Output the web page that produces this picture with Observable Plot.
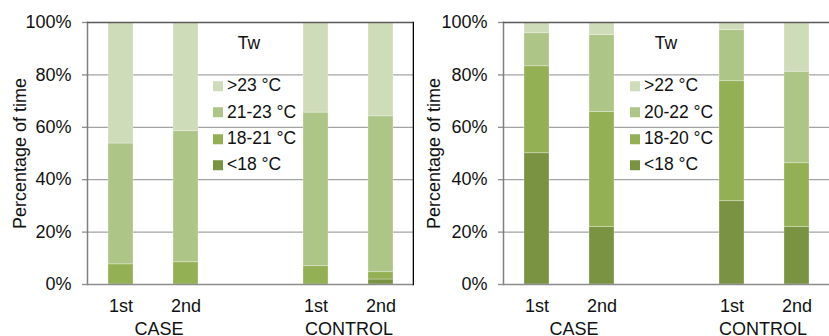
<!DOCTYPE html>
<html>
<head>
<meta charset="utf-8">
<script src="https://cdn.jsdelivr.net/npm/d3@7"></script>
<script src="https://cdn.jsdelivr.net/npm/@observablehq/plot@0.6"></script>
<style>
  html, body { margin: 0; padding: 0; background: #fff; }
  #wrap { position: relative; width: 829px; height: 336px; overflow: hidden; font-family: "Liberation Sans", Arial, sans-serif; color: #111; }
  .chart { position: absolute; top: 0; }
  .legend { position: absolute; font-size: 17.5px; line-height: 1; }
  .legend .title { position: absolute; transform: translate(-50%, -50%); white-space: nowrap; }
  .legend .row { position: absolute; white-space: nowrap; display: flex; align-items: center; transform: translateY(-50%); }
  .legend .sw { width: 10px; height: 10px; display: inline-block; margin-right: 4px; }
</style>
</head>
<body>
<div id="wrap"></div>
<script>
// ---- data ----
const xDomain = ["CASE 1st", "CASE 2nd", "gap", "CONTROL 1st", "CONTROL 2nd"];
const barCategories = ["CASE 1st", "CASE 2nd", "CONTROL 1st", "CONTROL 2nd"];
const groups = ["CASE", "CONTROL"];
const yTicks = [0, 20, 40, 60, 80, 100];
const legendTitle = "Tw";

// left chart (bottom -> top)
const leftBands = ["<18 °C", "18-21 °C", "21-23 °C", ">23 °C"];
const leftLt18   = [0.0, 0.0, 0.0, 1.9];
const left18to21 = [7.7, 8.5, 7.0, 2.8];
const left21to23 = [46.1, 50.0, 58.6, 59.5];
const leftGt23   = [46.2, 41.5, 34.4, 35.8];

// right chart (bottom -> top)
const rightBands = ["<18 °C", "18-20 °C", "20-22 °C", ">22 °C"];
const rightLt18   = [50.1, 21.9, 31.8, 21.9];
const right18to20 = [33.2, 43.9, 45.8, 24.4];
const right20to22 = [12.6, 29.4, 19.5, 34.9];
const rightGt22   = [4.1, 4.8, 2.9, 18.8];

const colors = ["#7a9343", "#94b055", "#adc587", "#cfdcb9"];

function tidy(bands, series) {
  const rows = [];
  bands.forEach((b, i) => barCategories.forEach((c, j) => rows.push({cat: c, band: b, value: series[i][j]})));
  return rows;
}

function makeChart({bands, series, width, marginLeft, marginRight, labelOffset, rightLine, dxCase, dxControl}) {
  const data = tidy(bands, series);
  return Plot.plot({
    width, height: 336,
    marginLeft, marginRight, marginTop: 22, marginBottom: 52,
    style: {fontFamily: "Liberation Sans, Arial, sans-serif", fontSize: "18px", color: "#111", background: "#fff", overflow: "visible"},
    x: {domain: xDomain, paddingInner: 0.62, paddingOuter: 0.31, axis: null},
    y: {domain: [0, 100], axis: null},
    color: {domain: bands, range: colors},
    marks: [
      Plot.gridY([20, 40, 60, 80], {stroke: "#a3a3a3", strokeOpacity: 1, strokeWidth: 1.3}),
      Plot.barY(data, {x: "cat", y: "value", fill: "band", order: bands, stroke: "#fff", strokeOpacity: 0.35, strokeWidth: 0.8}),
      Plot.axisY(yTicks, {tickSize: 5, tickPadding: 11, tickFormat: d => d + "%", stroke: "#8c8c8c", strokeWidth: 1.3, fontSize: 18,
        label: "Percentage of time", labelAnchor: "center", labelOffset, labelArrow: "none"}),
      Plot.axisX(barCategories, {tickSize: 0, tickPadding: 15, tickFormat: d => d.split(" ")[1], label: null, fontSize: 18}),
      Plot.text([groups[0]], {x: () => "CASE 2nd", frameAnchor: "bottom", lineAnchor: "top", dy: 38, dx: dxCase, text: d => d, fontSize: 18}),
      Plot.text([groups[1]], {x: () => "CONTROL 2nd", frameAnchor: "bottom", lineAnchor: "top", dy: 38, dx: dxControl, text: d => d, fontSize: 18}),
      Plot.frame({anchor: "left", stroke: "#7f7f7f", strokeWidth: 1.5}),
      Plot.ruleY([0], {stroke: "#8c8c8c", strokeWidth: 1.5}),
      Plot.ruleY([100], {stroke: "#5a5a5a", strokeWidth: 1.6}),
      rightLine ? Plot.frame({anchor: "right", stroke: "#000", strokeWidth: 1.6}) : null
    ]
  });
}

function makeLegend(bands, titleX, swX) {
  const div = document.createElement("div");
  div.className = "legend";
  div.style.left = "0px"; div.style.top = "0px";
  const t = document.createElement("div");
  t.className = "title"; t.textContent = legendTitle;
  t.style.left = titleX + "px"; t.style.top = "44px";
  div.appendChild(t);
  const rowsY = [86, 112.5, 139, 165];
  const order = bands.slice().reverse();
  const cols = colors.slice().reverse();
  order.forEach((b, i) => {
    const r = document.createElement("div");
    r.className = "row";
    r.style.left = swX + "px"; r.style.top = rowsY[i] + "px";
    const s = document.createElement("span"); s.className = "sw"; s.style.background = cols[i];
    const l = document.createElement("span"); l.textContent = b;
    r.appendChild(s); r.appendChild(l);
    div.appendChild(r);
  });
  return div;
}

const wrap = document.getElementById("wrap");
const left = makeChart({bands: leftBands, series: [leftLt18, left18to21, left21to23, leftGt23],
  width: 414, marginLeft: 87, marginRight: 1, labelOffset: 74, rightLine: true, dxCase: -27, dxControl: -32});
left.classList.add("chart"); left.style.left = "0px";
wrap.appendChild(left);

const right = makeChart({bands: rightBands, series: [rightLt18, right18to20, right20to22, rightGt22],
  width: 416, marginLeft: 89, marginRight: 0, labelOffset: 76, rightLine: false, dxCase: -28, dxControl: -34});
right.classList.add("chart"); right.style.left = "414px";
wrap.appendChild(right);

wrap.appendChild(makeLegend(leftBands, 249, 213));
wrap.appendChild(makeLegend(rightBands, 666, 630));
</script>
</body>
</html>
